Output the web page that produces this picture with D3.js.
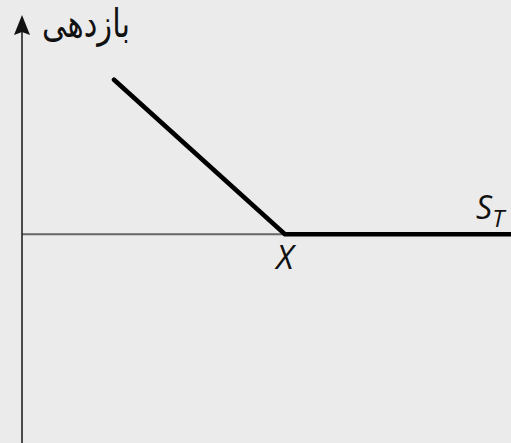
<!DOCTYPE html>
<html>
<head>
<meta charset="utf-8">
<script src="https://cdn.jsdelivr.net/npm/d3@7/dist/d3.min.js"></script>
<style>
html,body{margin:0;padding:0;background:#ebebeb;}
svg{display:block;}
</style>
</head>
<body>
<script>
// Data
const sValues = [35, 100, 190];      // underlying price at maturity S_T
const payoffValues = [65, 0, 0];     // payoff (put: max(X - S_T, 0))
const strike = 100;                  // X
const yAxisLabel = "بازدهی";
const strikeLabel = "X";
const xAxisLabel = "S";
const xAxisSub = "T";

const W = 511, H = 443;
const svg = d3.select("body").append("svg").attr("width", W).attr("height", H);
svg.append("rect").attr("width", W).attr("height", H).attr("fill", "#ebebeb");

const x = d3.scaleLinear().domain([0, 186]).range([22, 511]);
const y = d3.scaleLinear().domain([-88, 92]).range([443.5, 15.5]);

// horizontal axis
svg.append("line")
  .attr("x1", x(0)).attr("x2", W)
  .attr("y1", y(0)).attr("y2", y(0))
  .attr("stroke", "#666").attr("stroke-width", 2);

// vertical axis
const ax = x(0);
svg.append("line")
  .attr("x1", ax).attr("x2", ax)
  .attr("y1", H).attr("y2", 30)
  .attr("stroke", "#222").attr("stroke-width", 1.6);
svg.append("path")
  .attr("d", `M${ax},15 L${ax+8},35 L${ax},32 L${ax-8},35 Z`)
  .attr("fill", "#111");

// payoff line
const data = sValues.map((s, i) => ({s, p: payoffValues[i]}));
svg.append("path")
  .datum(data)
  .attr("d", d3.line().x(d => x(d.s)).y(d => y(d.p)))
  .attr("fill", "none")
  .attr("stroke", "#000")
  .attr("stroke-width", 4.6)
  .attr("stroke-linejoin", "miter")
  .attr("stroke-linecap", "round");

// labels
const yl = svg.append("text")
  .attr("x", 130).attr("y", 0)
  .attr("text-anchor", "end")
  .attr("font-family", "'DejaVu Sans'")
  .attr("font-size", 30)
  .attr("fill", "#111")
  .attr("transform", "translate(0,37) scale(1,1.28)")
  .text(yAxisLabel);
const bb = yl.node().getBBox();
if (bb.width > 0) {
  const fs = 30 * 88 / bb.width;
  yl.attr("font-size", Math.min(fs, 40));
}

svg.append("text")
  .attr("x", x(strike)).attr("y", 269)
  .attr("text-anchor", "middle")
  .attr("font-family", "Open Sans")
  .attr("font-style", "italic")
  .attr("font-size", 33)
  .attr("fill", "#111")
  .text(strikeLabel);

const st = svg.append("text")
  .attr("x", 476).attr("y", 219)
  .attr("font-family", "Open Sans")
  .attr("font-style", "italic")
  .attr("font-size", 32)
  .attr("fill", "#111");
st.append("tspan").text(xAxisLabel);
st.append("tspan").attr("font-size", 24).attr("dy", 8).text(xAxisSub);
</script>
</body>
</html>
